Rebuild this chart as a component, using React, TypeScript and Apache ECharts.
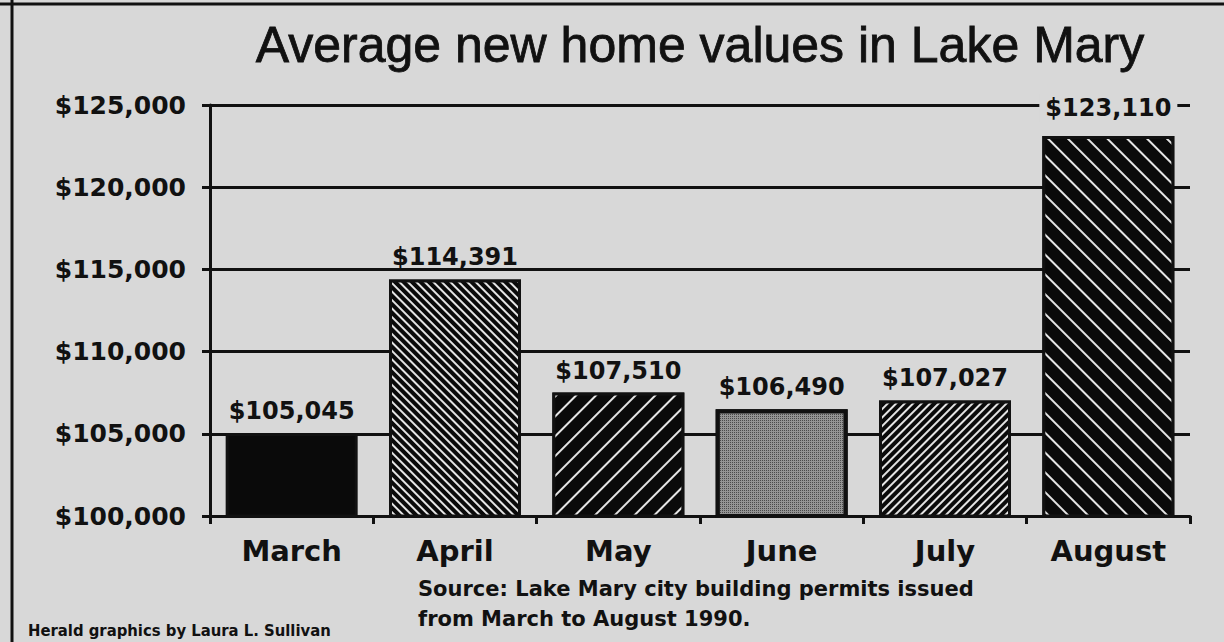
import React, { useEffect, useRef } from "react";
import * as echarts from "echarts";

const categories = ["March", "April", "May", "June", "July", "August"];
const values = [105045, 114391, 107510, 106490, 107027, 123110];
const yMin = 100000;
const yMax = 125000;
const yStep = 5000;

const titleText = "Average new home values in Lake Mary";
const sourceLines = [
  "Source: Lake Mary city building permits issued",
  "from March to August 1990.",
];
const creditText = "Herald graphics by Laura L. Sullivan";

const BG = "#d8d8d8";
const INK = "#111111";

const hatch = (dash: number, gap: number, rot: number) => ({
  symbol: "rect",
  symbolSize: 1,
  color: "#e4e4e4",
  dashArrayX: [1, 0],
  dashArrayY: [dash, gap],
  rotation: rot,
});

const BACK = Math.PI / 4; // "\\" direction
const FWD = -Math.PI / 4; // "//" direction

const barStyles: any[] = [
  { color: "#0a0a0a" },
  { color: "#0a0a0a", decal: hatch(1.8, 3.2, BACK) },
  { color: "#0a0a0a", decal: hatch(1.5, 12, FWD) },
  {
    color: "#949494",
    borderWidth: 4,
    decal: {
      symbol: "rect",
      symbolSize: 1,
      color: "#4a4a4a",
      dashArrayX: [1, 1],
      dashArrayY: [1, 1],
      rotation: 0,
    },
  },
  { color: "#0a0a0a", decal: hatch(2, 4, FWD) },
  { color: "#0a0a0a", decal: hatch(1.5, 12, BACK) },
];

const money = (v: number) => "$" + Number(v).toLocaleString("en-US");

export default function App() {
  const ref = useRef<HTMLDivElement>(null);

  useEffect(() => {
    document.body.style.margin = "0";
    if (!ref.current) return;
    const chart = echarts.init(ref.current, null, { renderer: "svg" });
    const boldFont = "'DejaVu Sans', 'Liberation Sans', sans-serif";

    const option: any = {
      animation: false,
      backgroundColor: BG,
      grid: { left: 210, right: 34, top: 105, bottom: 126, containLabel: false },
      xAxis: {
        type: "category",
        data: categories,
        axisLine: { lineStyle: { color: INK, width: 3 } },
        axisTick: { show: true, length: 8, lineStyle: { color: INK, width: 3 } },
        axisLabel: {
          fontFamily: boldFont,
          fontWeight: "bold",
          fontSize: 29,
          color: INK,
          margin: 20,
        },
      },
      yAxis: {
        type: "value",
        min: yMin,
        max: yMax,
        interval: yStep,
        axisLine: { show: true, lineStyle: { color: INK, width: 3 } },
        axisTick: { show: true, length: 8, lineStyle: { color: INK, width: 3 } },
        splitLine: { show: true, lineStyle: { color: INK, width: 3 } },
        axisLabel: {
          formatter: (v: number) => money(v),
          fontFamily: boldFont,
          fontWeight: "bold",
          fontSize: 25,
          color: INK,
          margin: 24,
        },
      },
      series: [
        {
          type: "bar",
          barWidth: 132,
          itemStyle: { borderColor: INK, borderWidth: 3 },
          label: {
            show: true,
            position: "top",
            distance: 10,
            formatter: (p: any) => money(p.value),
            fontFamily: boldFont,
            fontWeight: "bold",
            fontSize: 24,
            color: INK,
          },
          data: values.map((v, i) => ({
            value: v,
            itemStyle: { borderColor: INK, borderWidth: 3, ...barStyles[i] },
            label:
              i === values.length - 1
                ? { backgroundColor: BG, padding: [2, 6], distance: 14 }
                : undefined,
          })),
        },
      ],
      graphic: [
        {
          type: "line",
          shape: { x1: 12, y1: 0, x2: 12, y2: 642 },
          style: { stroke: INK, lineWidth: 3 },
        },
        {
          type: "line",
          shape: { x1: 0, y1: 4, x2: 1224, y2: 4 },
          style: { stroke: INK, lineWidth: 3 },
        },
        {
          type: "text",
          x: 700,
          y: 45,
          style: {
            text: titleText,
            fontFamily: "'Liberation Sans', Arial, sans-serif",
            fontSize: 50,
            fontWeight: "normal",
            fill: INK,
            stroke: INK,
            lineWidth: 0.8,
            align: "center",
            verticalAlign: "middle",
          },
        },
        {
          type: "text",
          x: 418,
          y: 589,
          style: {
            text: sourceLines[0],
            fontFamily: boldFont,
            fontSize: 21,
            fontWeight: "bold",
            fill: INK,
            align: "left",
            verticalAlign: "middle",
          },
        },
        {
          type: "text",
          x: 418,
          y: 619,
          style: {
            text: sourceLines[1],
            fontFamily: boldFont,
            fontSize: 21,
            fontWeight: "bold",
            fill: INK,
            align: "left",
            verticalAlign: "middle",
          },
        },
        {
          type: "text",
          x: 28,
          y: 630,
          style: {
            text: creditText,
            fontFamily: "'DejaVu Sans Condensed', 'Liberation Sans Narrow', 'DejaVu Sans', sans-serif",
            fontSize: 16.5,
            fontWeight: "bold",
            fill: INK,
            align: "left",
            verticalAlign: "middle",
          },
        },
      ],
    };

    chart.setOption(option);
    return () => chart.dispose();
  }, []);

  return <div ref={ref} style={{ width: 1224, height: 642 }} />;
}
